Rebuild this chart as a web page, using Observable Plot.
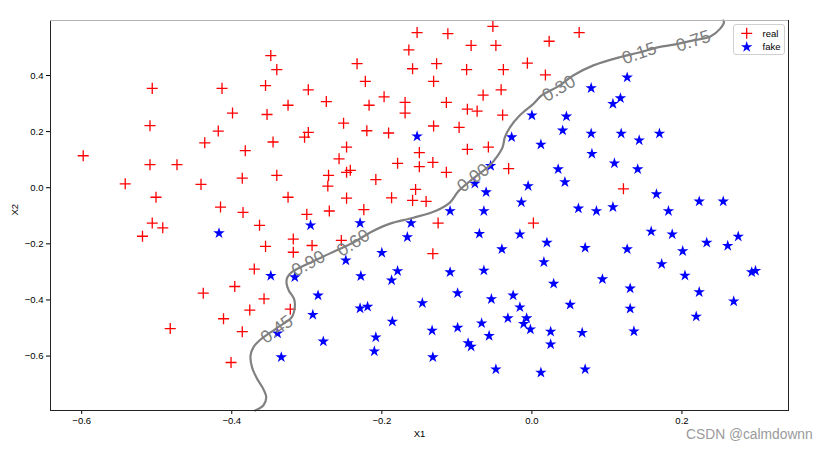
<!DOCTYPE html>
<html>
<head>
<meta charset="utf-8">
<script src="https://cdn.jsdelivr.net/npm/d3@7"></script>
<script src="https://cdn.jsdelivr.net/npm/@observablehq/plot@0.6"></script>
<style>
  body { margin: 0; background: #fff; }
  #wrap { position: relative; width: 829px; height: 451px; overflow: hidden; }
  #legend { position: absolute; left: 733px; top: 24px; width: 50px; height: 29px;
            border: 1px solid #d0d0d0; border-radius: 3px; background: rgba(255,255,255,0.85); }
  #legend svg { position: absolute; left: 0; top: 0; }
  #mark { position: absolute; left: 686px; top: 427px; font: 13.8px "Liberation Sans", Arial, sans-serif; color: #9a9a9a; white-space: nowrap; }
</style>
</head>
<body>
<div id="wrap"></div>
<script>
// ---- data ----
const realX = [-0.348,-0.340,-0.506,-0.413,-0.355,-0.399,-0.353,-0.509,-0.418,-0.436,-0.345,-0.382,-0.598,-0.509,-0.473,-0.386,-0.340,-0.542,-0.441,-0.501,-0.415,-0.385,-0.506,-0.492,-0.519,-0.363,-0.355,-0.370,-0.396,-0.438,-0.357,-0.376,-0.411,-0.482,-0.386,-0.401,
  -0.153,-0.112,-0.052,-0.081,-0.048,-0.164,0.023,0.063,-0.233,-0.159,-0.127,-0.087,-0.038,-0.006,0.018,-0.222,-0.131,-0.298,-0.274,-0.325,-0.217,-0.197,-0.169,-0.169,-0.114,-0.065,-0.041,-0.086,-0.073,-0.039,-0.251,-0.131,-0.097,-0.298,-0.303,-0.220,-0.191,-0.247,-0.086,-0.058,-0.150,-0.257,-0.179,-0.150,-0.132,-0.031,-0.114,-0.247,-0.242,-0.271,-0.272,-0.208,-0.155,-0.325,-0.247,-0.187,-0.159,-0.141,-0.300,-0.270,-0.224,-0.125,0.002,-0.318,-0.318,-0.293,-0.254,-0.132,-0.322,0.122];
const realY = [0.471,0.421,0.354,0.354,0.364,0.266,0.261,0.221,0.202,0.160,0.163,0.132,0.114,0.082,0.082,0.034,0.044,0.014,0.012,-0.034,-0.069,-0.088,-0.126,-0.143,-0.173,-0.134,-0.209,-0.290,-0.352,-0.376,-0.396,-0.436,-0.467,-0.502,-0.513,-0.623,
  0.553,0.549,0.575,0.507,0.507,0.491,0.522,0.553,0.442,0.424,0.442,0.421,0.421,0.444,0.402,0.379,0.379,0.349,0.307,0.294,0.294,0.324,0.304,0.266,0.304,0.330,0.349,0.280,0.273,0.259,0.230,0.220,0.215,0.197,0.180,0.203,0.195,0.145,0.137,0.145,0.125,0.103,0.087,0.075,0.090,0.068,0.055,0.055,0.062,0.044,0.006,0.029,-0.006,-0.034,-0.037,-0.036,-0.045,-0.049,-0.095,-0.083,-0.078,-0.126,-0.126,-0.183,-0.230,-0.206,-0.188,-0.235,-0.433,-0.004];

const fakeX = [-0.417,-0.348,-0.339,-0.334,-0.153,0.000,-0.027,0.012,-0.055,-0.076,-0.061,-0.005,-0.014,-0.109,-0.064,-0.229,0.127,0.079,0.118,0.108,0.046,0.041,0.079,0.119,0.143,0.170,0.080,0.110,0.141,0.035,0.044,0.166,0.223,0.255,0.062,0.086,0.108,0.182,0.159,0.187,0.275,0.020,0.071,0.127,0.201,0.233,0.261,0.016,0.173,0.293,0.298,0.204,0.094,0.029,0.131,0.223,0.269,0.051,0.131,0.219,0.025,0.067,0.136,0.025,0.012,0.071,
  -0.295,-0.161,-0.166,-0.070,-0.016,-0.200,-0.248,-0.040,-0.109,-0.064,-0.179,-0.187,-0.228,-0.316,-0.285,-0.099,-0.025,-0.054,-0.146,-0.016,-0.229,-0.219,-0.292,-0.032,-0.007,-0.011,-0.067,-0.186,-0.002,-0.133,-0.099,-0.057,-0.208,-0.278,-0.085,-0.081,-0.210,-0.132,-0.048];
const fakeY = [-0.162,-0.314,-0.519,-0.604,0.183,0.258,0.180,0.154,0.078,0.015,-0.016,0.006,-0.052,-0.083,-0.083,-0.126,0.393,0.355,0.319,0.299,0.254,0.204,0.193,0.193,0.169,0.193,0.121,0.087,0.066,0.066,0.020,-0.023,-0.049,-0.049,-0.074,-0.083,-0.069,-0.083,-0.156,-0.166,-0.174,-0.196,-0.214,-0.219,-0.226,-0.196,-0.207,-0.265,-0.272,-0.301,-0.296,-0.313,-0.326,-0.342,-0.359,-0.372,-0.405,-0.417,-0.431,-0.459,-0.513,-0.517,-0.512,-0.558,-0.659,-0.647,
  -0.134,-0.126,-0.176,-0.164,-0.166,-0.232,-0.259,-0.219,-0.301,-0.295,-0.297,-0.330,-0.315,-0.319,-0.384,-0.376,-0.384,-0.397,-0.411,-0.426,-0.430,-0.424,-0.453,-0.465,-0.465,-0.485,-0.483,-0.477,-0.505,-0.509,-0.499,-0.528,-0.533,-0.548,-0.554,-0.566,-0.583,-0.604,-0.647];

// decision-boundary contour (traced)
const contourX = [-0.369,-0.358,-0.354,-0.358,-0.367,-0.373,-0.375,-0.371,-0.362,-0.341,-0.320,-0.316,-0.317,-0.324,-0.327,-0.326,-0.320,-0.298,-0.269,-0.238,-0.213,-0.189,-0.158,-0.127,-0.109,-0.098,-0.078,-0.056,-0.047,-0.039,-0.036,-0.029,-0.016,0.002,0.013,0.035,0.055,0.082,0.118,0.143,0.169,0.191,0.215,0.238,0.251,0.256,0.255];
const contourY = [-0.794,-0.776,-0.747,-0.717,-0.677,-0.640,-0.598,-0.568,-0.542,-0.502,-0.461,-0.426,-0.396,-0.366,-0.341,-0.320,-0.301,-0.270,-0.234,-0.195,-0.156,-0.128,-0.107,-0.081,-0.052,-0.013,0.033,0.080,0.109,0.145,0.180,0.216,0.258,0.299,0.329,0.361,0.400,0.436,0.466,0.482,0.501,0.511,0.525,0.539,0.567,0.590,0.596];

const labelText = ["0.45","0.90","0.60","0.00","0.30","0.15","0.75"];
const labelX = [-0.340,-0.298,-0.238,-0.078,0.036,0.143,0.215];
const labelY = [-0.505,-0.270,-0.197,0.035,0.354,0.479,0.523];
const labelAngle = [-36,-29,-33,-37,-30,-19,-18];

const xTicks = [-0.6,-0.4,-0.2,0.0,0.2];
const yTicks = [-0.6,-0.4,-0.2,0.0,0.2,0.4];
const seriesNames = ["real","fake"];
const xDomain = [-0.6416, 0.342];
const yDomain = [-0.794, 0.596];

// ---- build tables ----
const real = realX.map((x, i) => ({x, y: realY[i]}));
const fake = fakeX.map((x, i) => ({x, y: fakeY[i]}));
const contour = contourX.map((x, i) => ({x, y: contourY[i]}));
const labels = labelText.map((t, i) => ({t, x: labelX[i], y: labelY[i], a: labelAngle[i]}));
const fmt = d => (d < 0 ? "\u2212" : "") + Math.abs(d).toFixed(1);

const font = "Liberation Sans, Arial, sans-serif";
const chart = Plot.plot({
  width: 829, height: 451,
  marginLeft: 50, marginRight: 41, marginTop: 20, marginBottom: 41,
  style: {fontFamily: font, fontSize: "9.5px", background: "white", color: "#000"},
  x: {domain: xDomain, ticks: xTicks, tickFormat: fmt, tickSize: 4, tickPadding: 3, label: null},
  y: {domain: yDomain, ticks: yTicks, tickFormat: fmt, tickSize: 4, tickPadding: 3, label: null},
  marks: [
    Plot.dot(real, {x: "x", y: "y", symbol: "plus", stroke: "red", fill: "none", r: 3.65, strokeWidth: 1.3}),
    Plot.dot(fake, {x: "x", y: "y", symbol: "star", fill: "blue", stroke: "none", r: 3.6}),
    Plot.line(contour, {x: "x", y: "y", stroke: "#808080", strokeWidth: 2.2, curve: "catmull-rom"}),
    Plot.text(labels, {x: "x", y: "y", text: "t", rotate: "a", fontSize: 18, fill: "#808080", textAnchor: "middle", lineAnchor: "middle", fontFamily: font}),
    Plot.frame({stroke: "#222", strokeWidth: 1}),
    Plot.ruleY([yDomain[1]], {stroke: "#b4b4b4", strokeWidth: 1.2}),
    Plot.text(["X1"], {frameAnchor: "bottom", text: d => d, dy: 23, lineAnchor: "middle", fontSize: 9.5}),
    Plot.text(["X2"], {frameAnchor: "left", text: d => d, dx: -36, rotate: -90, lineAnchor: "middle", fontSize: 9.5})
  ]
});
const wrap = document.getElementById("wrap");
wrap.appendChild(chart);

// legend
const star = d3.symbol(d3.symbolStar, Math.PI * 3.6 * 3.6)();
const legend = document.createElement("div");
legend.id = "legend";
legend.innerHTML = `<svg width="50" height="29" font-family="${font}" font-size="9.5">
  <path d="M7.2,8.3H18.2M12.7,2.8V13.8" stroke="red" stroke-width="1.3" fill="none"/>
  <text x="28.5" y="8.3" dy="0.35em" fill="#000">${seriesNames[0]}</text>
  <path d="${star}" transform="translate(12.7,22)" fill="blue"/>
  <text x="28.5" y="22" dy="0.35em" fill="#000">${seriesNames[1]}</text>
</svg>`;
wrap.appendChild(legend);

const mark = document.createElement("div");
mark.id = "mark";
mark.textContent = "CSDN @calmdownn";
wrap.appendChild(mark);
</script>
</body>
</html>
